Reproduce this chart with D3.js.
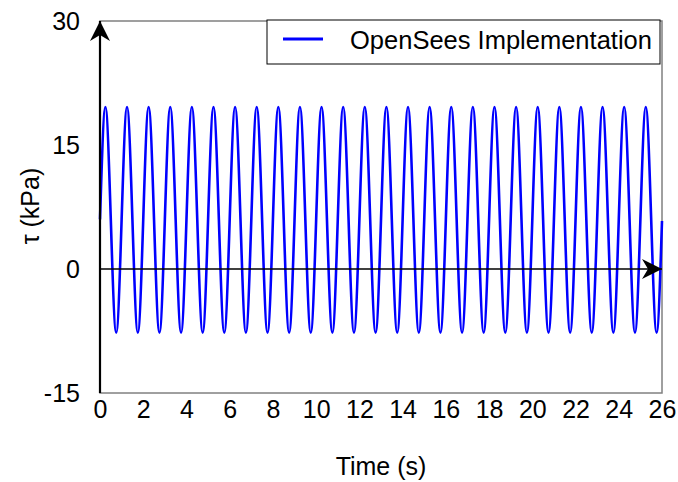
<!DOCTYPE html>
<html>
<head>
<meta charset="utf-8">
<script src="https://cdn.jsdelivr.net/npm/d3@7"></script>
<style>
  body { margin: 0; background: #fff; }
  text { font-family: "Liberation Sans", Arial, sans-serif; fill: #000; }
</style>
</head>
<body>
<svg id="chart" width="678" height="482"></svg>
<script>
// shear stress history: start, alternating peaks / troughs, end
let times = [0,
    0.25, 0.75, 1.25, 1.75, 2.25, 2.75, 3.25, 3.75, 4.25, 4.75, 5.25, 5.75, 6.25, 6.75,
    7.25, 7.75, 8.25, 8.75, 9.25, 9.75, 10.25, 10.75, 11.25, 11.75, 12.25, 12.75,
    13.25, 13.75, 14.25, 14.75, 15.25, 15.75, 16.25, 16.75, 17.25, 17.75, 18.25, 18.75,
    19.25, 19.75, 20.25, 20.75, 21.25, 21.75, 22.25, 22.75, 23.25, 23.75, 24.25, 24.75,
    25.25, 25.75, 26];
let tau = [6.0,
    19.6, -7.7, 19.6, -7.7, 19.6, -7.7, 19.6, -7.7, 19.6, -7.7, 19.6, -7.7, 19.6, -7.7,
    19.6, -7.7, 19.6, -7.7, 19.6, -7.7, 19.6, -7.7, 19.6, -7.7, 19.6, -7.7,
    19.6, -7.7, 19.6, -7.7, 19.6, -7.7, 19.6, -7.7, 19.6, -7.7, 19.6, -7.7,
    19.6, -7.7, 19.6, -7.7, 19.6, -7.7, 19.6, -7.7, 19.6, -7.7, 19.6, -7.7,
    19.6, -7.7, 5.8];
let xTicks = [0, 2, 4, 6, 8, 10, 12, 14, 16, 18, 20, 22, 24, 26];
let yTicks = [-15, 0, 15, 30];
let seriesName = "OpenSees Implementation";

let margin = {top: 21, right: 16, bottom: 89, left: 100};
let width = 678 - margin.left - margin.right;
let height = 482 - margin.top - margin.bottom;

let svg = d3.select('#chart');
let plot = svg.append('g')
    .attr('transform', 'translate(' + margin.left + ',' + margin.top + ')');

let xScale = d3.scaleLinear().domain([0, 26]).range([0, width]);
let yScale = d3.scaleLinear().domain([-15, 30]).range([height, 0]);

// frame
plot.append('rect')
    .attr('width', width).attr('height', height)
    .attr('fill', 'none').attr('stroke', '#808080').attr('stroke-width', 1.5);

// tick labels (no tick marks in the original)
let xAxis = plot.append('g')
    .attr('transform', 'translate(0,' + height + ')')
    .call(d3.axisBottom(xScale).tickValues(xTicks).tickSize(0).tickPadding(7)
        .tickFormat(d => String(d)));
xAxis.select('.domain').remove();
xAxis.attr('font-size', null).attr('font-family', null);
xAxis.selectAll('text').style('font-size', '25px');

let yAxis = plot.append('g')
    .call(d3.axisLeft(yScale).tickValues(yTicks).tickSize(0).tickPadding(20)
        .tickFormat(d => String(d)));
yAxis.select('.domain').remove();
yAxis.attr('font-size', null).attr('font-family', null);
yAxis.selectAll('text').style('font-size', '25px');

// the series
let line = d3.line()
    .x((d, i) => xScale(times[i]))
    .y(d => yScale(d))
    .curve(d3.curveMonotoneX);
plot.append('path')
    .datum(tau)
    .attr('d', line)
    .attr('fill', 'none')
    .attr('stroke', '#0000ff')
    .attr('stroke-width', 2.6);

// zero line and y axis with arrow heads
svg.append('defs').append('marker')
    .attr('id', 'arrow')
    .attr('viewBox', '0 0 20 20')
    .attr('refX', 20).attr('refY', 10)
    .attr('markerWidth', 20).attr('markerHeight', 20)
    .attr('markerUnits', 'userSpaceOnUse')
    .attr('orient', 'auto')
    .append('path')
    .attr('d', 'M0,0 L20,10 L0,20 L6,10 Z')
    .attr('fill', '#000');

plot.append('line')
    .attr('x1', 0).attr('x2', width)
    .attr('y1', yScale(0)).attr('y2', yScale(0))
    .attr('stroke', '#000').attr('stroke-width', 1.3)
    .attr('marker-end', 'url(#arrow)');
plot.append('line')
    .attr('x1', 0).attr('x2', 0)
    .attr('y1', height).attr('y2', 0)
    .attr('stroke', '#000').attr('stroke-width', 2.2)
    .attr('marker-end', 'url(#arrow)');

// axis titles
svg.append('text')
    .attr('x', 381).attr('y', 475)
    .attr('text-anchor', 'middle')
    .style('font-size', '25px')
    .text('Time (s)');
svg.append('text')
    .attr('transform', 'translate(39,206) rotate(-90)')
    .attr('text-anchor', 'middle')
    .style('font-size', '25px')
    .text('τ (kPa)');

// legend
let legend = svg.append('g').attr('transform', 'translate(267,20)');
legend.append('rect')
    .attr('width', 393).attr('height', 44)
    .attr('fill', '#fff').attr('stroke', '#000').attr('stroke-width', 1);
legend.append('line')
    .attr('x1', 16).attr('x2', 56).attr('y1', 19).attr('y2', 19)
    .attr('stroke', '#0000ff').attr('stroke-width', 3);
legend.append('text')
    .attr('x', 83).attr('y', 29)
    .style('font-size', '25.5px')
    .text(seriesName);
</script>
</body>
</html>
